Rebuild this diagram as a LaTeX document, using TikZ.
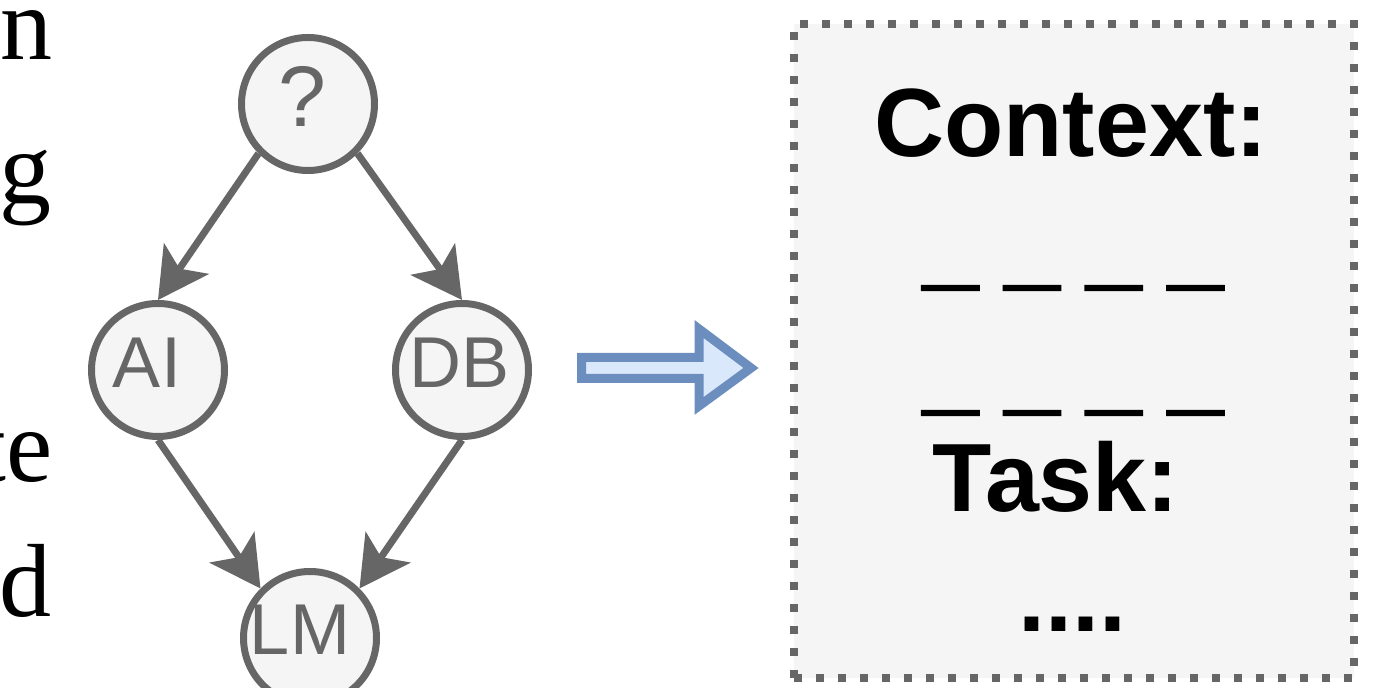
\documentclass[tikz,border=0pt]{standalone}
\usepackage{fontspec}
\setmainfont{Liberation Serif}
\setsansfont{Liberation Sans}
\newfontfamily\dashfont[FakeBold=2.5]{Liberation Sans Bold}
\usetikzlibrary{arrows.meta}
\definecolor{ngray}{HTML}{666666}
\definecolor{nfill}{HTML}{F5F5F5}
\definecolor{bblue}{HTML}{6C8EBF}
\definecolor{lblue}{HTML}{DAE8FC}
\begin{document}
\begin{tikzpicture}[x=0.5pt,y=-0.5pt,
  gnode/.style={circle, draw=ngray, fill=nfill, line width=3.5pt, minimum size=66.5pt, inner sep=0pt, text=ngray, font=\sffamily\fontsize{36}{36}\selectfont},
  edge/.style={draw=ngray, line width=3.5pt, -{Stealth[length=25pt,width=27pt,inset=6pt]}},
  serif/.style={anchor=base east, inner sep=0pt, font=\fontsize{52}{52}\selectfont},
  boxtext/.style={anchor=base, inner sep=0pt, font=\sffamily\bfseries\fontsize{48.5}{48.5}\selectfont},
  dashtext/.style={anchor=base, inner sep=0pt, font=\dashfont\fontsize{49}{49}\selectfont}
]
\useasboundingbox (0,0) rectangle (1393,688);
% left text fragments
\node[serif] (l1) at (53,60) {n};
\node[serif] (l2) at (52,204) {g};
\node[serif] (l3) at (53,482) {te};
\node[serif] (l4) at (52,617) {d};
% graph
\node[gnode, font=\sffamily\fontsize{43}{43}\selectfont] (q) at (308,104) {\kern-6pt\raisebox{7.5pt}{?}};
\node[gnode] (ai) at (158,370) {\kern-11pt\raisebox{7.5pt}{AI}};
\node[gnode] (db) at (462,370) {\kern-2pt\raisebox{7.5pt}{DB}};
\node[gnode] (lm) at (310,638) {\kern-10pt\raisebox{8pt}{LM}};
\draw[edge] (q.south west) -- (ai.north);
\draw[edge] (q.south east) -- (db.north);
\draw[edge] (ai.south) -- (lm.north west);
\draw[edge] (db.south) -- (lm.north east);
% big arrow
\draw[draw=bblue, fill=lblue, line width=4.5pt, line join=miter]
  (581.5,357.5) -- (699,357.5) -- (699,329) -- (751,368) -- (699,406) -- (699,378.5) -- (581.5,378.5) -- cycle;
% context box
\node[draw=ngray, fill=nfill, line width=4pt, dash pattern=on 4pt off 7pt, minimum width=280pt, minimum height=327pt, inner sep=0pt] (ctx) at (1074,351) {};
\node[boxtext] (context) at (1071,157) {Context:};
\node[dashtext] (d1) at (1073,278) {\_ \_ \_ \_};
\node[dashtext] (d2) at (1073,403) {\_ \_ \_ \_};
\node[boxtext] (task) at (1056,512) {Task:};
\node[boxtext] (dots) at (1072,632) {....};
\end{tikzpicture}
\end{document}
